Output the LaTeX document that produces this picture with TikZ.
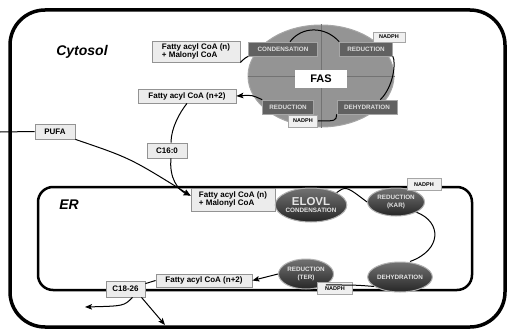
\documentclass[tikz,border=0pt]{standalone}
\usepackage{fontspec}
\setmainfont{Liberation Sans}
\usetikzlibrary{arrows, arrows.meta, positioning, shapes.geometric}

\begin{document}
\begin{tikzpicture}[x=1pt,y=-1pt,>={Stealth[length=7pt,width=5.5pt,inset=1.5pt]},line width=1pt,
    lipid/.style={draw=gray!85, fill=gray!15, line width=0.8pt, inner sep=1pt,
      font=\bfseries\fontsize{8}{8.5}\selectfont, align=left},
    fasstep/.style={draw=gray!70, fill=black!62, text=gray!25, line width=0.6pt,
      minimum height=14pt, font=\bfseries\fontsize{6.3}{6.3}\selectfont},
    erenz/.style={ellipse, draw=gray!60, top color=black!55, bottom color=black!85,
      text=gray!20, inner sep=0pt, align=center, font=\bfseries\fontsize{6.3}{7.5}\selectfont},
    cofactor/.style={draw=gray!70, fill=gray!12, line width=0.6pt, inner sep=0pt,
      font=\bfseries\fontsize{5.5}{5.5}\selectfont},
    compart/.style={font=\bfseries\itshape\fontsize{14}{14}\selectfont}]

  \useasboundingbox (0,0) rectangle (509,329);

  % cell and ER membranes
  \draw[line width=3.5pt, rounded corners=35pt] (10,10) rectangle (505,327);
  \draw[line width=2.5pt, rounded corners=15pt] (38,187) rectangle (472,290);
  \node[compart] (cytosol) at (82,52) {Cytosol};
  \node[compart] (er) at (69,205) {ER};

  % FAS complex
  \node[ellipse, draw=gray!70, fill=black!42, minimum width=146pt, minimum height=102pt] (fas) at (321,76) {};
  \draw[black!55, line width=0.6pt] (fas.north) -- (fas.south) (fas.west) -- (fas.east);
  \node[fasstep, minimum width=69pt] (cond) at (283,49) {CONDENSATION};
  \node[fasstep, minimum width=53pt] (red1) at (366,49) {REDUCTION};
  \node[fasstep, minimum width=51pt] (red2) at (288,107) {REDUCTION};
  \node[fasstep, minimum width=60pt] (dehyd) at (367,107) {DEHYDRATION};
  \node[fill=white, minimum width=52pt, minimum height=18pt,
    font=\bfseries\fontsize{11}{11}\selectfont] (fasname) at (321,79) {FAS};
  \node[cofactor, minimum width=32pt, minimum height=10pt] (nadph1) at (389,37) {NADPH};
  \node[cofactor, minimum width=29pt, minimum height=12pt] (nadph2) at (303,121) {NADPH};

  % cytosolic substrates
  \node[lipid, minimum width=88pt, minimum height=21pt] (acyl) at (196,51.5) {Fatty acyl CoA (n)\\+ Malonyl CoA};
  \node[lipid, minimum width=98pt, minimum height=14pt] (acyl2) at (187,96) {Fatty acyl CoA (n+2)};
  \node[lipid, minimum width=40pt, minimum height=15pt] (pufa) at (55,131.5) {PUFA};
  \node[lipid, minimum width=40pt, minimum height=15pt] (c16) at (167,150.5) {C16:0};
  \coordinate (pufain) at (0,132);

  \draw (acyl.south east) .. controls (245,58) .. (cond.south west);
  \draw ([xshift=7pt]cond.north) .. controls (302,26) and (325,26) .. (red1.north west);
  \draw (red1.south east) .. controls (396,62) and (394,86) .. ([xshift=-17pt]dehyd.north east);
  \draw (dehyd.south west) .. controls (336,121) .. (nadph2.east);
  \draw[->] (red2.north west) .. controls (252,95) .. (acyl2.east);

  % ER elongation
  \node[lipid, minimum width=84pt, minimum height=23pt] (eracyl) at (233,199.5) {Fatty acyl CoA (n)\\+ Malonyl CoA};
  \node[erenz, minimum width=64pt, minimum height=34pt] (elovl) at (311,205)
    {{\fontsize{11.5}{11.5}\selectfont ELOVL}\\CONDENSATION};
  \node[erenz, minimum width=57pt, minimum height=28pt] (kar) at (396,202) {REDUCTION\\(KAR)};
  \node[erenz, minimum width=55pt, minimum height=30pt] (dehyd2) at (400,277) {DEHYDRATION};
  \node[erenz, minimum width=55pt, minimum height=30pt] (ter) at (306,274) {REDUCTION\\(TER)};
  \node[cofactor, minimum width=34pt, minimum height=12pt] (nadph3) at (424,184.5) {NADPH};
  \node[cofactor, minimum width=35pt, minimum height=12pt] (nadph4) at (335,288.5) {NADPH};
  \node[lipid, minimum width=96pt, minimum height=13pt] (eracyl2) at (204,280.5) {Fatty acyl CoA (n+2)};
  \node[lipid, minimum width=39pt, minimum height=16pt] (c18) at (125.5,289) {C18-26};
  \coordinate (out1) at (85,307);
  \coordinate (out2) at (165,325);

  \draw (pufain) -- (pufa.west);
  \draw[->] (pufa.south east) .. controls (130,158) .. ([yshift=-8pt]eracyl.north west);
  \draw (acyl2.south) .. controls (180,112) and (171,128) .. ([xshift=4pt]c16.north);
  \draw[->] ([xshift=4pt]c16.south) .. controls (169,178) and (178,190) .. ([yshift=-8pt]eracyl.north west);

  \draw (elovl.north east) .. controls (346,186) .. (kar.west);
  \draw (kar.south east) .. controls (442,222) and (442,250) .. ([xshift=10pt]dehyd2.north);
  \draw (dehyd2.200) .. controls (356,285) .. (ter.south east);
  \draw[->] (ter.west) -- (eracyl2.east);
  \draw (eracyl2.west) -- ([yshift=-3pt]c18.north east);
  \draw[->] ([xshift=7pt]c18.south) .. controls (124,306) .. (out1);
  \draw[->] ([xshift=16pt]c18.south) -- (out2);
\end{tikzpicture}
\end{document}
